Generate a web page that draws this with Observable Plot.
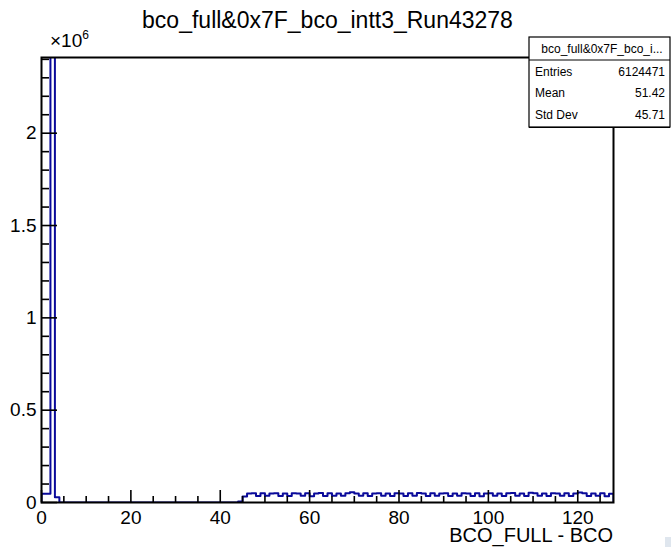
<!DOCTYPE html>
<html>
<head>
<meta charset="utf-8">
<script src="https://cdn.jsdelivr.net/npm/d3@7"></script>
<script src="https://cdn.jsdelivr.net/npm/@observablehq/plot@0.6"></script>
<style>
  html, body { margin: 0; padding: 0; background: #fff; }
  #wrap { position: relative; width: 671px; height: 547px; overflow: hidden; font-family: "Liberation Sans", Arial, sans-serif; }
  #overlay { position: absolute; left: 0; top: 0; pointer-events: none; }
</style>
</head>
<body>
<div id="wrap"></div>
<script>
// ---- data (bin contents of the histogram, bins of width 1 from 0 to 128) ----
const binLow = 0;
const binWidth = 1;
const counts = [
  // bins 0-3
  48000, 48000, 2430000, 29000,
  // bins 4-43 (empty)
  0,0,0,0,0,0,0,0,0,0, 0,0,0,0,0,0,0,0,0,0, 0,0,0,0,0,0,0,0,0,0, 0,0,0,0,0,0,0,0,0,0,
  // bin 44
  6000,
  // bins 45-127
  33000, 49000, 50000, 35000, 50000, 36000, 49000, 50000, 35000, 49000,
  35000, 50000, 49000, 36000, 50000, 34000, 49000, 51000, 35000, 50000,
  36000, 49000, 37000, 50000, 55000, 49000, 36000, 50000, 35000, 49000,
  50000, 36000, 49000, 35000, 50000, 49000, 35000, 50000, 36000, 51000,
  49000, 35000, 50000, 36000, 49000, 50000, 35000, 49000, 36000, 50000,
  49000, 35000, 50000, 34000, 49000, 50000, 36000, 49000, 35000, 50000,
  51000, 36000, 49000, 35000, 53000, 50000, 36000, 49000, 35000, 50000,
  49000, 36000, 50000, 35000, 49000, 54000, 50000, 35000, 49000, 36000,
  50000, 34000, 48000
];
const xMajorTicks = [0, 20, 40, 60, 80, 100, 120];
const xTickLabels = ["0", "20", "40", "60", "80", "100", "120"];
const xMinorTicks = [5,10,15,25,30,35,45,50,55,65,70,75,85,90,95,105,110,115,125];
const yMajorTicks = [0, 0.5, 1, 1.5, 2];           // in units of 10^6
const yTickLabels = ["0", "0.5", "1", "1.5", "2"];
const yMinorTicks = [0.1,0.2,0.3,0.4,0.6,0.7,0.8,0.9,1.1,1.2,1.3,1.4,1.6,1.7,1.8,1.9,2.1,2.2,2.3,2.4];
const title = "bco_full&0x7F_bco_intt3_Run43278";
const xTitle = "BCO_FULL - BCO";
const statsName = "bco_full&0x7F_bco_i...";
const statsLabels = ["Entries", "Mean", "Std Dev"];
const statsValues = ["6124471", "51.42", "45.71"];

// ---- build step outline from the bins ----
const nBins = counts.length;
const xMax = binLow + nBins * binWidth;
const pts = [{x: binLow, y: 0}];
counts.forEach((c, i) => pts.push({x: binLow + i * binWidth, y: c}));
pts.push({x: xMax, y: counts[nBins - 1]});
pts.push({x: xMax, y: 0});

const W = 671, H = 547;
const mL = 41, mR = 58, mT = 57, mB = 45;
const frameW = W - mL - mR, frameH = H - mT - mB;
const FONT = "Liberation Sans, Arial, sans-serif";

const plot = Plot.plot({
  width: W,
  height: H,
  marginLeft: mL, marginRight: mR, marginTop: mT, marginBottom: mB,
  style: {fontFamily: FONT, fontSize: "19px", background: "white", color: "black"},
  x: {domain: [binLow, xMax]},
  y: {domain: [0, 2.41e6]},
  marks: [
    Plot.line(pts, {x: "x", y: "y", curve: "step-after", stroke: "#0a0a9a", strokeWidth: 2, clip: true}),
    // ticks pointing inward (ROOT style)
    Plot.tickX(xMinorTicks, {x: d => d, insetTop: frameH - 6, stroke: "black", strokeWidth: 1.6}),
    Plot.tickX(xMajorTicks, {x: d => d, insetTop: frameH - 12, stroke: "black", strokeWidth: 1.6}),
    Plot.tickY(yMinorTicks, {y: d => d * 1e6, insetRight: frameW - 8, stroke: "black", strokeWidth: 1.6}),
    Plot.tickY(yMajorTicks, {y: d => d * 1e6, insetRight: frameW - 16, stroke: "black", strokeWidth: 1.6}),
    Plot.frame({stroke: "black", strokeWidth: 2}),
    Plot.axisX({ticks: xMajorTicks, tickSize: 0, tickPadding: 8, fontSize: 19, label: null,
      tickFormat: d => xTickLabels[xMajorTicks.indexOf(d)]}),
    Plot.axisY({ticks: yMajorTicks.map(d => d * 1e6), tickSize: 0, tickPadding: 5, fontSize: 19, label: null,
      tickFormat: d => yTickLabels[yMajorTicks.indexOf(d / 1e6)]})
  ]
});

const wrap = document.getElementById("wrap");
wrap.appendChild(plot);

// ---- overlay: title, exponent, axis title, stats box ----
const svg = d3.select(wrap).append("svg")
  .attr("id", "overlay").attr("width", W).attr("height", H)
  .style("font-family", FONT);

svg.append("text").attr("x", 327.5).attr("y", 28).attr("text-anchor", "middle")
  .style("font-size", "23px").text(title);

const exp = svg.append("text").attr("x", 50).attr("y", 47).style("font-size", "19px");
exp.append("tspan").text("×10");
exp.append("tspan").attr("dy", -8).style("font-size", "12px").text("6");

svg.append("text").attr("x", W - mR).attr("y", 542).attr("text-anchor", "end")
  .style("font-size", "20px").text(xTitle);

// stats box
const bx = 529, by = 37, bw = 141, bh = 90, hh = 23;
svg.append("rect").attr("x", bx).attr("y", by).attr("width", bw).attr("height", bh)
  .attr("fill", "white").attr("stroke", "black").attr("stroke-width", 1.2);
svg.append("line").attr("x1", bx).attr("x2", bx + bw).attr("y1", by + bh + 0.5).attr("y2", by + bh + 0.5)
  .attr("stroke", "black").attr("stroke-width", 1.2);
svg.append("line").attr("x1", bx).attr("x2", bx + bw).attr("y1", by + hh).attr("y2", by + hh)
  .attr("stroke", "black").attr("stroke-width", 1);
svg.append("text").attr("x", 602).attr("y", 52.5).attr("text-anchor", "middle")
  .style("font-size", "12px").text(statsName);
const rowY = [75.5, 97, 119];
statsLabels.forEach((l, i) => {
  svg.append("text").attr("x", 535).attr("y", rowY[i]).style("font-size", "12px").text(l);
  svg.append("text").attr("x", 665).attr("y", rowY[i]).attr("text-anchor", "end")
    .style("font-size", "12px").text(statsValues[i]);
});

// small canvas corner artifact
svg.append("rect").attr("x", 665).attr("y", 537).attr("width", 6).attr("height", 10).attr("fill", "#dfe6ee");
</script>
</body>
</html>
